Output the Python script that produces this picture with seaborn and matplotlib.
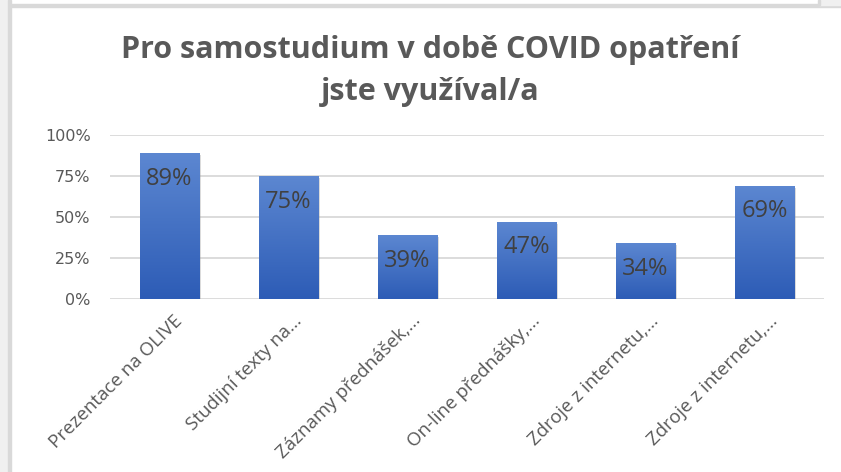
import numpy as np
import pandas as pd
import seaborn as sns
import matplotlib
matplotlib.use('Agg')
import matplotlib.pyplot as plt
from matplotlib.colors import LinearSegmentedColormap
from matplotlib.patches import Rectangle
from matplotlib.transforms import ScaledTranslation
import matplotlib.patheffects as pe

# Data
categories = ['Prezentace na OLIVE', 'Studijní texty na...', 'Záznamy přednášek,...',
              'On-line přednášky,...', 'Zdroje z internetu,...', 'Zdroje z internetu,...']
values = [0.89, 0.75, 0.39, 0.47, 0.34, 0.69]
value_labels = ['89%', '75%', '39%', '47%', '34%', '69%']
y_ticks = [0, 0.25, 0.5, 0.75, 1.0]
y_tick_labels = ['0%', '25%', '50%', '75%', '100%']
title_lines = ['Pro samostudium v době COVID opatření', 'jste využíval/a']

sns.set_theme(style='white')
plt.rcParams['font.family'] = ['Open Sans', 'DejaVu Sans']

fig = plt.figure(figsize=(8.41, 4.72), dpi=100)
fig.patch.set_facecolor('white')

# screenshot frame
fig.patches.append(Rectangle((0, 0), 8/841, 1, transform=fig.transFigure, color='#f0f0f0', zorder=0))
fig.patches.append(Rectangle((8/841, 0), 3/841, 1, transform=fig.transFigure, color='#d9d9d9', zorder=0))
fig.patches.append(Rectangle((11/841, 465/472), 1, 3/472, transform=fig.transFigure, color='#d9d9d9', zorder=0))
fig.patches.append(Rectangle((819/841, 467/472), 22/841, 5/472, transform=fig.transFigure, color='#f0f0f0', zorder=0))
fig.patches.append(Rectangle((818/841, 467/472), 2/841, 5/472, transform=fig.transFigure, color='#d9d9d9', zorder=0))

ax = fig.add_axes([110/841, 173/472, 714/841, 164/472])
# two categories share the same (truncated) label, so plot by position
df = pd.DataFrame({'poradi': range(len(categories)), 'podil': values})
sns.barplot(data=df, x='poradi', y='podil', color='#4472c4', width=0.5, ax=ax,
            saturation=1, zorder=2)

# gradient fill for bars
cmap = LinearSegmentedColormap.from_list('bar', ['#2d5cb6', '#5c87d1'])
grad = np.linspace(0, 1, 256).reshape(-1, 1)
for patch in ax.patches:
    x0, y0 = patch.get_x(), patch.get_y()
    w, h = patch.get_width(), patch.get_height()
    patch.set_facecolor('none')
    patch.set_edgecolor('none')
    patch.set_path_effects([pe.SimplePatchShadow(offset=(1.5, -1.5), shadow_rgbFace='#9a9a9a', alpha=0.35)])
    im = ax.imshow(grad, cmap=cmap, origin='lower', aspect='auto',
                   extent=[x0, x0 + w, y0, y0 + h], zorder=3)
    im.set_clip_path(patch)

ax.set_xlim(-0.5, 5.5)
ax.set_ylim(0, 1)

ax.bar_label(ax.containers[0], labels=value_labels, padding=-27, fontsize=17,
             color='#404040', zorder=4)

ax.set_yticks(y_ticks)
ax.set_yticklabels(y_tick_labels, fontsize=11.5, color='#595959', family=['DejaVu Sans'])
ax.tick_params(axis='y', length=0, pad=14)
ax.set_xticks(range(len(categories)))
ax.set_xticklabels(categories, rotation=45, ha='right', rotation_mode='anchor',
                   fontsize=13.5, color='#595959')
ax.tick_params(axis='x', length=0, pad=9)
shift = ScaledTranslation(4/100, 0, fig.dpi_scale_trans)
for lbl in ax.get_xticklabels():
    lbl.set_transform(lbl.get_transform() + shift)

ax.yaxis.grid(True, color='#d9d9d9', linewidth=1.3)
ax.set_axisbelow(True)
ax.set_xlabel('')
ax.set_ylabel('')
sns.despine(ax=ax, left=True, bottom=True)

fig.text(430/841, 1 - 58/472, title_lines[0], ha='center', va='baseline',
         fontsize=22, fontweight='bold', color='#595959')
fig.text(430/841, 1 - 100/472, title_lines[1], ha='center', va='baseline',
         fontsize=22, fontweight='bold', color='#595959')

fig.savefig('out.png', dpi=100)
